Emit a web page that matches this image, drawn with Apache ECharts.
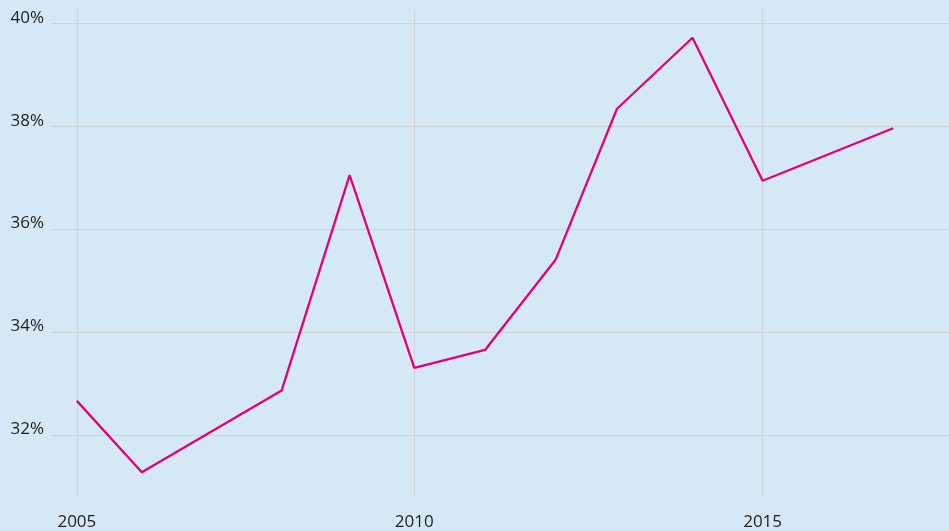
<!DOCTYPE html>
<html>
<head>
<meta charset="utf-8">
<style>
  html, body { margin: 0; padding: 0; background: #d4e8f5; }
  #main { width: 949px; height: 531px; }
</style>
<script src="https://cdn.jsdelivr.net/npm/echarts@6/dist/echarts.min.js"></script>
</head>
<body>
<div id="main"></div>
<script>
    // years (points are not exactly on whole years)
    var years = [2005, 2005.955, 2008.01, 2009.01, 2009.96, 2011.0, 2012.04, 2012.94, 2014.05, 2015.08, 2017];
    var shares = [32.66, 31.27, 32.86, 37.05, 33.30, 33.65, 35.41, 38.34, 39.72, 36.94, 37.96];

    var xTicks = [2005, 2009.96, 2015.08];
    var xTickLabels = ['2005', '2010', '2015'];
    var yTicks = [32, 34, 36, 38, 40];

    var textStyle = { color: '#1e1e1e', fontFamily: 'Open Sans', fontSize: 17 };

    var serdata = [];
    for (var i = 0; i < years.length; i++) {
        serdata.push([years[i], shares[i]]);
    }

    var option = {
        backgroundColor: '#d4e8f5',
        animation: false,
        grid: { left: 51, right: 0, top: 10, bottom: 35 },
        xAxis: {
            type: 'value',
            min: 2004.62,
            max: 2017.82,
            axisLine: { show: false },
            axisTick: { show: false, customValues: xTicks },
            splitLine: { show: true, lineStyle: { color: '#cfd3d6', width: 1 } },
            axisLabel: {
                customValues: xTicks,
                margin: 18,
                color: textStyle.color,
                fontFamily: textStyle.fontFamily,
                fontSize: textStyle.fontSize,
                formatter: function (v) {
                    for (var k = 0; k < xTicks.length; k++) {
                        if (Math.abs(xTicks[k] - v) < 0.001) return xTickLabels[k];
                    }
                    return '';
                }
            }
        },
        yAxis: {
            type: 'value',
            min: 30.81,
            max: 40.26,
            axisLine: { show: false },
            axisTick: { show: false, customValues: yTicks },
            splitLine: { show: true, lineStyle: { color: '#cfd3d6', width: 1 } },
            axisLabel: {
                customValues: yTicks,
                margin: 7,
                align: 'right',
                verticalAlign: 'bottom',
                lineHeight: 11,
                color: textStyle.color,
                fontFamily: textStyle.fontFamily,
                fontSize: textStyle.fontSize,
                formatter: function (v) { return v + '%'; }
            }
        },
        series: [{
            type: 'line',
            data: serdata,
            showSymbol: false,
            lineStyle: { color: '#e2007a', width: 2.3 }
        }]
    };

    var myChart = echarts.init(document.getElementById('main'));
    myChart.setOption(option);
</script>
</body>
</html>
